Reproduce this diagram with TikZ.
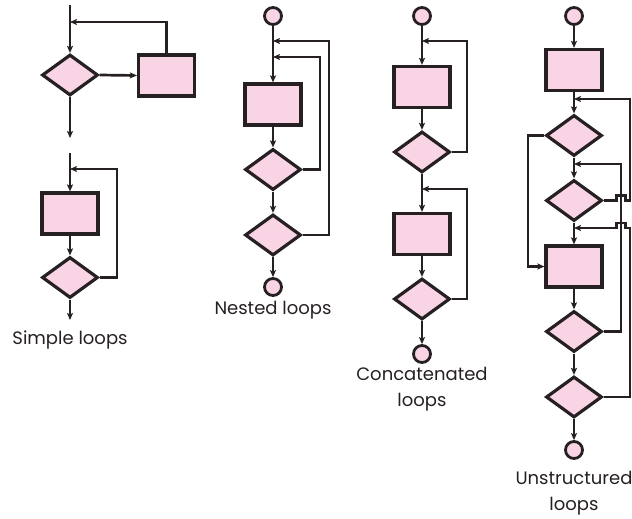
\documentclass[tikz,border=0pt]{standalone}
\usepackage{fontspec}
\setmainfont{Poppins}
\usetikzlibrary{shapes.geometric,arrows.meta}
\definecolor{pinkfill}{RGB}{248,212,229}
\definecolor{ink}{RGB}{38,32,35}
\tikzset{
  shapeline/.style={draw=ink,fill=pinkfill,line width=3.2pt,inner sep=0pt},
  box/.style={shapeline,rectangle,minimum width=56pt,minimum height=41pt},
  dia/.style={shapeline,diamond,minimum width=56pt,minimum height=41pt},
  term/.style={shapeline,circle,minimum size=17pt,line width=2.8pt},
  flow/.style={draw=ink,line width=2.7pt},
  arr/.style={flow,-{Stealth[length=7pt,width=6pt,inset=1.5pt]}},
  lbl/.style={font=\fontsize{18}{26}\selectfont,text=ink,align=center,inner sep=0pt}
}
\begin{document}
\begin{tikzpicture}[x=1pt,y=-1pt]
\useasboundingbox (0,0) rectangle (632,519);
% ---------- Simple loops (1)
\coordinate (s1top) at (70,5);
\coordinate (s1m) at (70,22);
\node[dia] (s1d) at (70,75) {};
\node[box] (s1r) at (166.5,75.5) {};
\coordinate (s1end) at (70,138);
\draw[arr] (s1top) -- (s1d.north);
\draw[arr] (s1r.north) |- (s1m);
\draw[arr] (s1d.east) -- (s1r.west);
\draw[arr] (s1d.south) -- (s1end);
% ---------- Simple loops (2)
\coordinate (s2top) at (70,153);
\coordinate (s2m) at (70,169);
\node[box] (s2r) at (70,213.5) {};
\node[dia] (s2d) at (70,277.5) {};
\coordinate (s2c) at (117,169);
\coordinate (s2end) at (70,320);
\draw[arr] (s2top) -- (s2r.north);
\draw[arr] (s2r.south) -- (s2d.north);
\draw[arr] (s2d.east) -| (s2c) -- (s2m);
\draw[arr] (s2d.south) -- (s2end);
\node[lbl] (s2l) at (70,340) {Simple loops};
% ---------- Nested loops
\node[term] (nc1) at (273,16) {};
\coordinate (nm1) at (273,41);
\coordinate (nm2) at (273,57);
\coordinate (nk1) at (329,41);
\coordinate (nk2) at (320,57);
\node[box] (nr) at (273,104.5) {};
\node[dia] (nd1) at (273,169.5) {};
\node[dia] (nd2) at (273,235) {};
\node[term] (nc2) at (273,287) {};
\draw[arr] (nc1.south) -- (nr.north);
\draw[arr] (nr.south) -- (nd1.north);
\draw[arr] (nd1.south) -- (nd2.north);
\draw[arr] (nd2.south) -- (nc2.north);
\draw[arr] (nd1.east) -| (nk2) -- (nm2);
\draw[arr] (nd2.east) -| (nk1) -- (nm1);
\node[lbl] (nl) at (273,310) {Nested loops};
% ---------- Concatenated loops
\node[term] (cc1) at (422,16) {};
\coordinate (cm1) at (422,41);
\coordinate (ck1) at (467,41);
\node[box] (cr1) at (422,87) {};
\node[dia] (cd1) at (422,152) {};
\coordinate (cm2) at (422,189);
\coordinate (ck2) at (467,189);
\node[box] (cr2) at (422,234) {};
\node[dia] (cd2) at (422,299) {};
\node[term] (cc2) at (422,354) {};
\draw[arr] (cc1.south) -- (cr1.north);
\draw[arr] (cr1.south) -- (cd1.north);
\draw[arr] (cd1.south) -- (cr2.north);
\draw[arr] (cr2.south) -- (cd2.north);
\draw[arr] (cd2.south) -- (cc2.north);
\draw[arr] (cd1.east) -| (ck1) -- (cm1);
\draw[arr] (cd2.east) -| (ck2) -- (cm2);
\node[lbl] (cl) at (422,389) {Concatenated\\loops};
% ---------- Unstructured loops
\node[term] (uc1) at (574,16) {};
\node[box] (ur1) at (574,70) {};
\coordinate (um1) at (574,99);
\node[dia] (ud1) at (574,135.5) {};
\coordinate (um2) at (574,164);
\node[dia] (ud2) at (574,200.5) {};
\coordinate (um3) at (574,228);
\node[box] (ur2) at (574,266.5) {};
\node[dia] (ud3) at (574,331.5) {};
\node[dia] (ud4) at (574,397) {};
\node[term] (uc2) at (574,450) {};
\coordinate (uk1) at (630,99);
\coordinate (uk2) at (621,164);
\coordinate (uk3) at (630,228);
\coordinate (ul) at (528,135.5);
\draw[arr] (uc1.south) -- (ur1.north);
\draw[arr] (ur1.south) -- (ud1.north);
\draw[arr] (ud1.south) -- (ud2.north);
\draw[arr] (ud2.south) -- (ur2.north);
\draw[arr] (ur2.south) -- (ud3.north);
\draw[arr] (ud3.south) -- (ud4.north);
\draw[arr] (ud4.south) -- (uc2.north);
\draw[arr] (ud1.west) -- (ul) |- (ur2.west);
\draw[arr] (ud3.east) -| (uk2) -- (um2);
\draw[arr] (ud2.east) -- (616.5,200.5) -- ++(0,-5) -- ++(9,0) -- ++(0,5) -- (630,200.5) -- (uk1) -- (um1);
\draw[arr] (ud4.east) -| (uk3) -- (625.5,228) -- ++(0,-5) -- ++(-9,0) -- ++(0,5) -- (um3);
\node[lbl] (ulb) at (574,493) {Unstructured\\loops};
\end{tikzpicture}
\end{document}
